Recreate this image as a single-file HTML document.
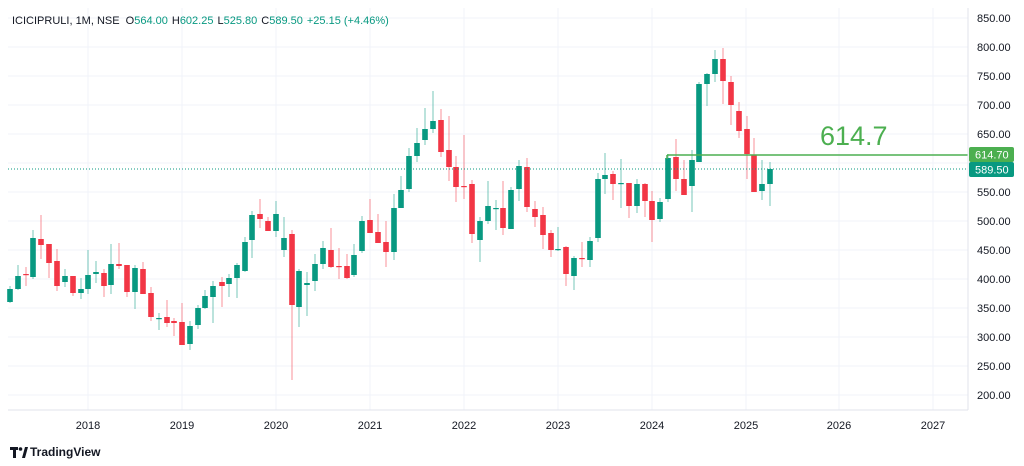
<!DOCTYPE html>
<html><head><meta charset="utf-8"><style>
body{margin:0;background:#fff;font-family:"Liberation Sans",sans-serif;}
svg{display:block}
</style></head><body>
<svg id="c" width="1024" height="466" xmlns="http://www.w3.org/2000/svg" font-family="Liberation Sans, sans-serif">
<rect width="1024" height="466" fill="#fff"/>
<g id="grid"></g>
<g id="candles"></g>
<line x1="8" y1="169" x2="968" y2="169" stroke="#089981" stroke-width="1" stroke-dasharray="1,2"/>
<line x1="667" y1="155" x2="968" y2="155" stroke="#4caf50" stroke-width="1.5"/>
<line x1="667" y1="155" x2="667" y2="159" stroke="#4caf50" stroke-width="1.5"/>
<text x="820" y="145" font-size="27" fill="#4caf50">614.7</text>
<line x1="968" y1="8" x2="968" y2="410" stroke="#e0e3eb"/>
<line x1="8" y1="410" x2="968" y2="410" stroke="#e0e3eb"/>
<g id="axis" font-size="11" fill="#131722"></g>
<rect x="969" y="147" width="45" height="15" rx="2" fill="#4caf50"/>
<text x="975" y="158.5" font-size="11" fill="#fff">614.70</text>
<rect x="969" y="162" width="45" height="15" rx="2" fill="#089981"/>
<text x="975" y="173.5" font-size="11" fill="#fff">589.50</text>
<text x="12" y="24" font-size="11" fill="#131722">ICICIPRULI, 1M, NSE <tspan dx="3">O</tspan><tspan fill="#089981">564.00</tspan><tspan dx="4">H</tspan><tspan fill="#089981">602.25</tspan><tspan dx="4">L</tspan><tspan fill="#089981">525.80</tspan><tspan dx="4">C</tspan><tspan fill="#089981">589.50</tspan><tspan dx="4" fill="#089981">+25.15 (+4.46%)</tspan></text>
<g transform="translate(10,445)"><path d="M0 2h8v3H6v8H3V5H0z" fill="#131722"/><circle cx="10.5" cy="4" r="1.8" fill="#131722"/><path d="M12 13l3-11h3l-3 11z" fill="#131722"/></g>
<text x="30" y="456" font-size="12" fill="#131722" font-weight="bold">TradingView</text>
</svg>
<script>
const NS="http://www.w3.org/2000/svg";
function el(p,t,a,txt){const e=document.createElementNS(NS,t);for(const k in a)e.setAttribute(k,a[k]);if(txt)e.textContent=txt;document.getElementById(p).appendChild(e);}
// grid + price labels
for(let p=200;p<=850;p+=50){const y=18+(850-p)*0.58;el('grid','line',{x1:8,x2:968,y1:y,y2:y,stroke:'#f0f3fa'});el('axis','text',{x:977,y:y+4},p.toFixed(2));}
const yrs=[[88,2018],[182,2019],[276,2020],[370,2021],[464,2022],[558,2023],[652,2024],[746,2025],[839,2026],[933,2027]];
for(const [x,t] of yrs){el('grid','line',{x1:x,x2:x,y1:8,y2:410,stroke:'#f0f3fa'});el('axis','text',{x:x,y:429,'text-anchor':'middle'},String(t));}
// x, bodyTop, bodyBot, wickTop, wickBot, green?
const D=[[10,289,302,286,303,1],[18,276,289,265,290,1],[26,274,275,267,286,0],[33,238,277,230,279,1],[41,239,245,215,259,0],[49,244,263,244,278,0],[57,261,286,249,291,0],[65,276,282,269,287,1],[73,276,293,276,296,0],[81,289,293,278,299,1],[88,275,289,250,294,1],[96,272,274,261,283,1],[104,273,286,269,297,0],[111,264,285,244,294,1],[119,264,266,243,269,0],[127,265,292,265,297,0],[135,268,292,265,309,1],[143,269,294,262,294,0],[151,293,317,287,321,0],[159,318,319,313,330,1],[167,317,323,300,327,0],[174,321,323,318,336,0],[182,322,345,303,345,0],[190,326,344,321,350,1],[198,308,325,305,329,1],[205,296,308,290,309,1],[213,286,297,281,323,1],[222,282,286,277,307,0],[229,278,284,274,297,1],[237,265,278,263,298,1],[245,242,271,237,272,1],[252,215,240,211,258,1],[260,214,219,199,228,0],[268,221,231,217,231,0],[276,214,231,201,237,1],[284,238,250,217,257,1],[292,234,305,230,380,0],[299,271,307,269,327,1],[307,283,285,272,316,1],[315,264,281,254,291,1],[323,248,264,241,269,1],[331,250,267,228,268,0],[339,266,267,248,279,0],[347,266,278,254,279,0],[354,255,275,244,277,1],[362,221,251,216,253,1],[370,220,233,199,233,0],[378,232,243,214,243,0],[386,242,252,221,267,0],[394,208,252,194,260,1],[401,190,208,176,208,1],[409,156,189,148,192,1],[417,143,156,128,162,1],[425,129,140,108,145,1],[433,121,129,91,133,1],[441,120,152,109,157,0],[449,150,167,116,181,0],[456,167,187,156,202,0],[464,186,187,135,199,0],[472,184,234,180,243,0],[480,221,240,217,262,1],[488,206,221,181,224,1],[496,208,209,200,230,1],[503,208,228,181,235,0],[511,190,229,187,229,1],[519,166,189,160,201,1],[527,167,207,158,212,0],[535,209,217,201,227,0],[543,215,235,207,249,0],[551,233,250,230,257,0],[558,249,250,227,251,1],[566,247,274,246,286,0],[574,258,276,256,290,1],[582,258,259,242,267,0],[590,241,260,237,267,1],[598,179,238,173,242,1],[605,175,179,153,194,1],[613,174,184,171,200,0],[621,183,184,159,208,1],[629,183,206,183,218,0],[637,184,206,179,213,1],[645,184,201,183,217,0],[652,201,220,191,242,0],[660,202,219,198,222,1],[668,158,199,154,202,1],[676,157,179,139,191,0],[684,179,195,160,195,0],[692,160,186,150,212,1],[699,84,162,82,162,1],[707,74,84,73,106,1],[715,59,74,50,82,1],[723,59,81,48,104,0],[731,82,105,76,125,0],[739,111,131,102,138,0],[747,129,154,116,179,0],[754,155,192,138,192,0],[762,184,191,160,200,1],[770,169,184,162,206,1]];
for(const [x,bt,bb,wt,wb,g] of D){const c=g?'#089981':'#F23645';
el('candles','line',{x1:x,x2:x,y1:wt,y2:wb,stroke:c,'stroke-opacity':0.55,'stroke-width':1});
el('candles','rect',{x:x-2.8,y:bt,width:5.6,height:Math.max(1.2,bb-bt),fill:c});}
</script>
</body></html>
